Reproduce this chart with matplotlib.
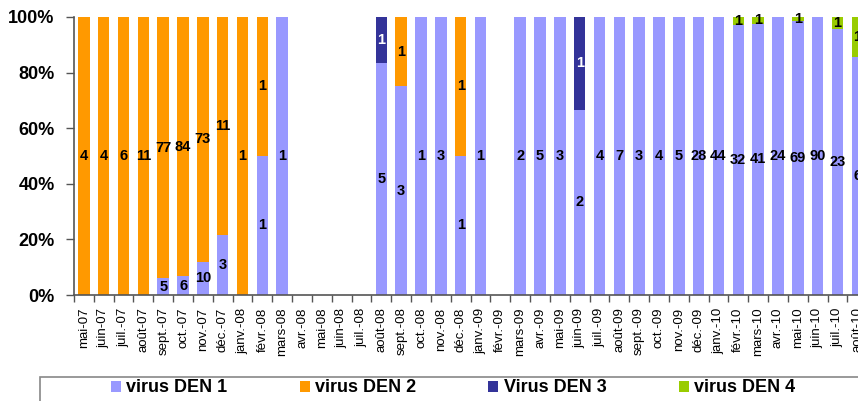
import numpy as np
import matplotlib
matplotlib.use("Agg")
from matplotlib import pyplot as plt
from matplotlib.patches import Rectangle, Patch

plt.rcParams['font.family'] = ['Liberation Sans', 'DejaVu Sans']

months = ['mai-07', 'juin-07', 'juil.-07', 'août-07', 'sept.-07', 'oct.-07', 'nov.-07', 'déc.-07',
          'janv.-08', 'févr.-08', 'mars-08', 'avr.-08', 'mai-08', 'juin-08', 'juil.-08', 'août-08',
          'sept.-08', 'oct.-08', 'nov.-08', 'déc.-08', 'janv.-09', 'févr.-09', 'mars-09', 'avr.-09',
          'mai-09', 'juin-09', 'juil.-09', 'août-09', 'sept.-09', 'oct.-09', 'nov.-09', 'déc.-09',
          'janv.-10', 'févr.-10', 'mars-10', 'avr.-10', 'mai-10', 'juin-10', 'juil.-10', 'août-10']

den1 = [0, 0, 0, 0, 5, 6, 10, 3, 0, 1, 1, 0, 0, 0, 0, 5, 3, 1, 3, 1, 1, 0, 2, 5,
        3, 2, 4, 7, 3, 4, 5, 28, 44, 32, 41, 24, 69, 90, 23, 6]
den2 = [4, 4, 6, 11, 77, 84, 73, 11, 1, 1, 0, 0, 0, 0, 0, 0, 1, 0, 0, 1, 0, 0, 0, 0,
        0, 0, 0, 0, 0, 0, 0, 0, 0, 0, 0, 0, 0, 0, 0, 0]
den3 = [0, 0, 0, 0, 0, 0, 0, 0, 0, 0, 0, 0, 0, 0, 0, 1, 0, 0, 0, 0, 0, 0, 0, 0,
        0, 1, 0, 0, 0, 0, 0, 0, 0, 0, 0, 0, 0, 0, 0, 0]
den4 = [0, 0, 0, 0, 0, 0, 0, 0, 0, 0, 0, 0, 0, 0, 0, 0, 0, 0, 0, 0, 0, 0, 0, 0,
        0, 0, 0, 0, 0, 0, 0, 0, 0, 1, 1, 0, 1, 0, 1, 1]

series = [('virus DEN 1', den1, '#9999FF', 'black'),
          ('virus DEN 2', den2, '#FF9900', 'black'),
          ('Virus DEN 3', den3, '#333399', 'white'),
          ('virus DEN 4', den4, '#99CC00', 'black')]

counts = np.array([s[1] for s in series], dtype=float)
totals = counts.sum(axis=0)
safe = np.where(totals > 0, totals, 1)
pct = counts / safe * 100

fig = plt.figure(figsize=(8.58, 4.01), dpi=100)
ax = fig.add_axes([74 / 858, 106 / 401, 40 * 19.83 / 858, 278 / 401])

x = np.arange(len(months))
bottom = np.zeros(len(months))
for k, (name, vals, color, tcol) in enumerate(series):
    ax.bar(x, pct[k], bottom=bottom, width=0.58, color=color, label=name, zorder=2)
    for i in range(len(months)):
        if counts[k, i] > 0:
            ax.text(x[i], bottom[i] + pct[k, i] / 2, str(int(counts[k, i])), ha='center', va='center',
                    fontsize=10.5, fontweight='bold', color=tcol, zorder=3)
    bottom += pct[k]

ax.set_xlim(-0.5, len(months) - 0.5)
ax.set_ylim(0, 100)
ax.set_yticks([0, 20, 40, 60, 80, 100])
ax.set_yticklabels(['0%', '20%', '40%', '60%', '80%', '100%'], fontsize=13, fontweight='bold')
ax.set_xticks(x)
ax.set_xticklabels(months, rotation=90, fontsize=9.5)
ax.set_xticks(np.arange(len(months) + 1) - 0.5, minor=True)
ax.tick_params(axis='x', which='major', length=0, pad=9)
ax.tick_params(axis='x', which='minor', length=5, width=1, color='#555555')
ax.tick_params(axis='y', length=6, width=1, pad=8, color='#555555')
for s in ['top', 'right']:
    ax.spines[s].set_visible(False)
for s in ['left', 'bottom']:
    ax.spines[s].set_linewidth(1.2)
    ax.spines[s].set_color('#555555')

# legend box (cut off at the bottom/right like the source)
fig.patches.append(Rectangle((40 / 858, -0.2), 1.0, 0.2 + 24 / 401, transform=fig.transFigure,
                             fill=False, edgecolor='#888888', linewidth=1.2))
handles = [Patch(facecolor=s[2], edgecolor='none') for s in series]
fig.legend(handles, [s[0] for s in series], ncol=4, loc='center left',
           bbox_to_anchor=(102 / 858, 13 / 401), frameon=False,
           prop={'weight': 'bold', 'size': 13}, handlelength=0.55, handleheight=0.55,
           handletextpad=0.3, columnspacing=4.0, borderpad=0)

fig.savefig('out.png', dpi=100)
